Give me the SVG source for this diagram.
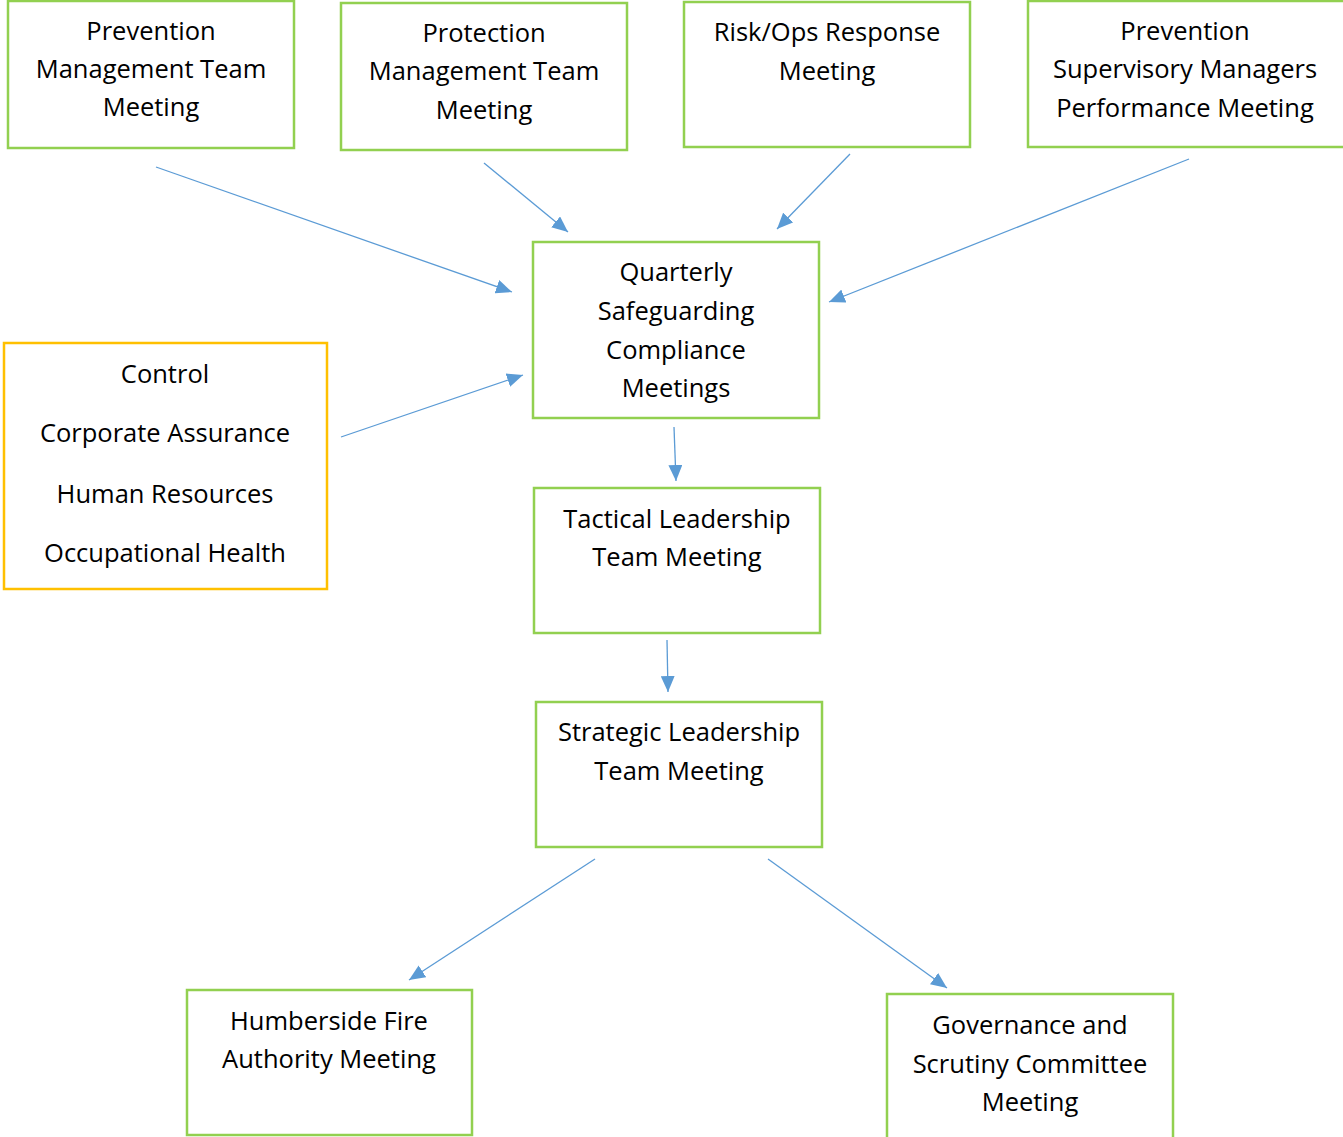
<svg xmlns="http://www.w3.org/2000/svg" width="1343" height="1137" viewBox="0 0 1343 1137">
<style>
.box{fill:#fff;stroke:#92D050;stroke-width:2.5}
.ybox{fill:#fff;stroke:#FFC000;stroke-width:2.5}
.t{font-family:"Open Sans","Liberation Sans",sans-serif;font-size:25.5px;fill:#000;text-anchor:middle}
.c{stroke:#5B9BD5;stroke-width:1.3;fill:none;marker-end:url(#ah)}
</style>
<defs>
<marker id="ah" markerUnits="userSpaceOnUse" markerWidth="18" markerHeight="14" refX="16" refY="7" orient="auto">
<path d="M0,0 L16,7 L0,14 Z" fill="#5B9BD5"/>
</marker>
</defs>
<rect width="1343" height="1137" fill="#fff"/>
<g id="connectors">
<line class="c" x1="156" y1="167" x2="512" y2="292"/>
<line class="c" x1="484" y1="163" x2="568" y2="232"/>
<line class="c" x1="850" y1="154" x2="777" y2="229"/>
<line class="c" x1="1189" y1="159" x2="829" y2="302"/>
<line class="c" x1="341" y1="437" x2="523" y2="375"/>
<line class="c" x1="674" y1="427" x2="676" y2="481"/>
<line class="c" x1="667" y1="640" x2="668" y2="692"/>
<line class="c" x1="595" y1="859" x2="409" y2="980"/>
<line class="c" x1="768" y1="859" x2="947" y2="988"/>
</g>
<g id="n1"><rect class="box" x="8" y="1" width="286" height="147"/>
<text class="t" x="151" y="40">Prevention</text><text class="t" x="151" y="78">Management Team</text><text class="t" x="151" y="116">Meeting</text></g>
<g id="n2"><rect class="box" x="341" y="3" width="286" height="147"/>
<text class="t" x="484" y="42">Protection</text><text class="t" x="484" y="80">Management Team</text><text class="t" x="484" y="119">Meeting</text></g>
<g id="n3"><rect class="box" x="684" y="2" width="286" height="145"/>
<text class="t" x="827" y="41">Risk/Ops Response</text><text class="t" x="827" y="80">Meeting</text></g>
<g id="n4"><rect class="box" x="1028" y="1" width="320" height="146"/>
<text class="t" x="1185" y="40">Prevention</text><text class="t" x="1185" y="78">Supervisory Managers</text><text class="t" x="1185" y="117">Performance Meeting</text></g>
<g id="n5"><rect class="box" x="533" y="242" width="286" height="176"/>
<text class="t" x="676" y="281">Quarterly</text><text class="t" x="676" y="320">Safeguarding</text><text class="t" x="676" y="359">Compliance</text><text class="t" x="676" y="397">Meetings</text></g>
<g id="n6"><rect class="ybox" x="4" y="343" width="323" height="246"/>
<text class="t" x="165" y="383">Control</text><text class="t" x="165" y="442">Corporate Assurance</text><text class="t" x="165" y="503">Human Resources</text><text class="t" x="165" y="562">Occupational Health</text></g>
<g id="n7"><rect class="box" x="534" y="488" width="286" height="145"/>
<text class="t" x="677" y="528">Tactical Leadership</text><text class="t" x="677" y="566">Team Meeting</text></g>
<g id="n8"><rect class="box" x="536" y="702" width="286" height="145"/>
<text class="t" x="679" y="741">Strategic Leadership</text><text class="t" x="679" y="780">Team Meeting</text></g>
<g id="n9"><rect class="box" x="187" y="990" width="285" height="145"/>
<text class="t" x="329" y="1030">Humberside Fire</text><text class="t" x="329" y="1068">Authority Meeting</text></g>
<g id="n10"><rect class="box" x="887" y="994" width="286" height="160"/>
<text class="t" x="1030" y="1034">Governance and</text><text class="t" x="1030" y="1073">Scrutiny Committee</text><text class="t" x="1030" y="1111">Meeting</text></g>
</svg>
